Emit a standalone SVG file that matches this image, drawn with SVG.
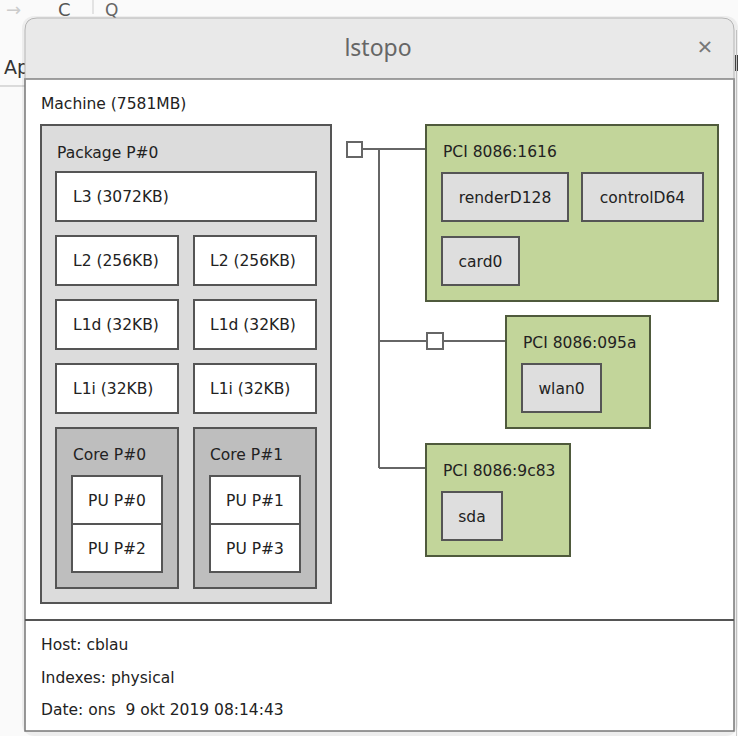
<svg xmlns="http://www.w3.org/2000/svg" width="738" height="736" viewBox="0 0 738 736">
<style>
text{font-family:"DejaVu Sans","Liberation Sans",sans-serif;font-size:15.5px;fill:#222}
.c{text-anchor:middle}
.box{stroke:#555;stroke-width:2}
.pkg{fill:#dcdcdc}
.core{fill:#bebebe}
.cache{fill:#fff}
.pci{fill:#c2d59a;stroke:#4f5a3c;stroke-width:2}
.osd{fill:#dedede;stroke:#555;stroke-width:2}
.conn{stroke:#666;stroke-width:2;fill:none}
.br{fill:#fff;stroke:#666;stroke-width:2}
</style>
<rect x="0" y="0" width="738" height="736" fill="#fafafa"/>
<g id="browser">
<line x1="0" y1="86" x2="26" y2="86" stroke="#bbb" stroke-width="1"/>
<text x="6" y="16" style="font-size:18px;fill:#ccc">→</text>
<text x="58" y="16" style="font-size:18px;fill:#555">C</text>
<line x1="93" y1="0" x2="93" y2="14" stroke="#ccc" stroke-width="1"/>
<text x="105" y="16" style="font-size:17px;fill:#666">Q</text>
<text x="4" y="74" style="font-size:19px;fill:#333">Ap</text>
<rect x="735" y="55" width="3" height="16" fill="#444"/>
<line x1="736.5" y1="30" x2="736.5" y2="736" stroke="#ccc" stroke-width="1"/>
</g>
<g id="window">
<rect x="22" y="16" width="716" height="720" rx="12" fill="#000" opacity="0.05"/>
<path d="M25 79 V30 Q25 18 37 18 H722 Q734 18 734 30 V79 Z" fill="#e9e9e9" stroke="#b5b5b5" stroke-width="1"/>
<rect x="25" y="79" width="709" height="652" fill="#fff" stroke="#777" stroke-width="1.5"/>
<line x1="25" y1="79" x2="734" y2="79" stroke="#aaa" stroke-width="1"/>
<text class="c" x="378" y="56" style="font-family:'Noto Sans','Open Sans',sans-serif;font-size:23px;fill:#666">lstopo</text>
<text class="c" x="705" y="56" style="font-family:'Noto Sans',sans-serif;font-size:26px;fill:#777">×</text>
<line x1="25" y1="620" x2="734" y2="620" stroke="#555" stroke-width="2"/>
</g>
<g id="machine"><text x="41" y="109">Machine (7581MB)</text></g>
<g id="package">
<rect class="box pkg" x="41" y="125" width="290" height="478"/>
<text x="57" y="158">Package P#0</text>
</g>
<g id="l3"><rect class="box cache" x="56" y="172" width="260" height="49"/><text x="73" y="202">L3 (3072KB)</text></g>
<g id="l2a"><rect class="box cache" x="56" y="236" width="122" height="49"/><text x="73" y="266">L2 (256KB)</text></g>
<g id="l2b"><rect class="box cache" x="194" y="236" width="122" height="49"/><text x="210" y="266">L2 (256KB)</text></g>
<g id="l1da"><rect class="box cache" x="56" y="300" width="122" height="49"/><text x="73" y="330">L1d (32KB)</text></g>
<g id="l1db"><rect class="box cache" x="194" y="300" width="122" height="49"/><text x="210" y="330">L1d (32KB)</text></g>
<g id="l1ia"><rect class="box cache" x="56" y="364" width="122" height="49"/><text x="73" y="394">L1i (32KB)</text></g>
<g id="l1ib"><rect class="box cache" x="194" y="364" width="122" height="49"/><text x="210" y="394">L1i (32KB)</text></g>
<g id="core0">
<rect class="box core" x="56" y="428" width="122" height="160"/>
<text x="73" y="460">Core P#0</text>
</g>
<g id="pu0"><rect class="box cache" x="72" y="476" width="90" height="48"/><text class="c" x="117" y="506">PU P#0</text></g>
<g id="pu2"><rect class="box cache" x="72" y="524" width="90" height="48"/><text class="c" x="117" y="554">PU P#2</text></g>
<g id="core1">
<rect class="box core" x="194" y="428" width="122" height="160"/>
<text x="210" y="460">Core P#1</text>
</g>
<g id="pu1"><rect class="box cache" x="210" y="476" width="90" height="48"/><text class="c" x="255" y="506">PU P#1</text></g>
<g id="pu3"><rect class="box cache" x="210" y="524" width="90" height="48"/><text class="c" x="255" y="554">PU P#3</text></g>
<g id="connectors">
<line class="conn" x1="363" y1="149" x2="426" y2="149"/>
<line class="conn" x1="379" y1="149" x2="379" y2="468"/>
<line class="conn" x1="379" y1="341" x2="427" y2="341"/>
<line class="conn" x1="443" y1="341" x2="506" y2="341"/>
<line class="conn" x1="379" y1="468" x2="426" y2="468"/>
</g>
<g id="bridge0"><rect class="br" x="347" y="142" width="15" height="15"/></g>
<g id="bridge1"><rect class="br" x="427" y="333" width="16" height="16"/></g>
<g id="pci1616">
<rect class="pci" x="426" y="125" width="292" height="176"/>
<text x="443" y="157">PCI 8086:1616</text>
</g>
<g id="renderD128"><rect class="osd" x="442" y="173" width="126" height="48"/><text class="c" x="505" y="203">renderD128</text></g>
<g id="controlD64"><rect class="osd" x="582" y="173" width="121" height="48"/><text class="c" x="642.5" y="203">controlD64</text></g>
<g id="card0"><rect class="osd" x="442" y="237" width="77" height="48"/><text class="c" x="480.5" y="267">card0</text></g>
<g id="pci095a">
<rect class="pci" x="506" y="316" width="144" height="112"/>
<text x="523" y="348">PCI 8086:095a</text>
</g>
<g id="wlan0"><rect class="osd" x="522" y="364" width="79" height="48"/><text class="c" x="561.5" y="394">wlan0</text></g>
<g id="pci9c83">
<rect class="pci" x="426" y="444" width="144" height="112"/>
<text x="443" y="476">PCI 8086:9c83</text>
</g>
<g id="sda"><rect class="osd" x="442" y="492" width="60" height="48"/><text class="c" x="472" y="522">sda</text></g>
<g id="footer">
<text x="41" y="650">Host: cblau</text>
<text x="41" y="683">Indexes: physical</text>
<text x="41" y="715" xml:space="preserve">Date: ons  9 okt 2019 08:14:43</text>
</g>
</svg>
